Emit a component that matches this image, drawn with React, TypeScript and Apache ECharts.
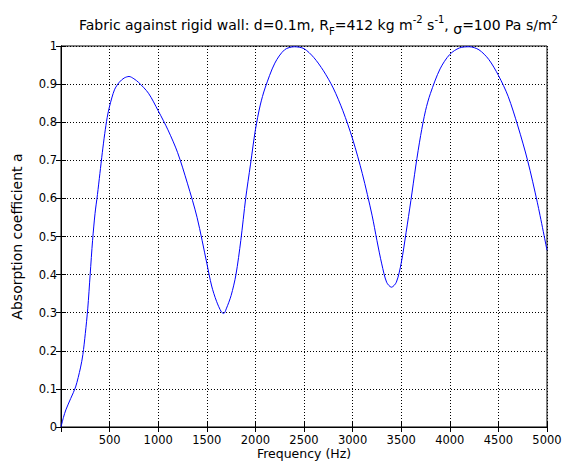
import React, { useEffect, useRef } from "react";
import * as echarts from "echarts";

const titleText = "Fabric against rigid wall: d=0.1m, R_F=412 kg m^-2 s^-1, σ=100 Pa s/m^2";
const xAxisName = "Frequency (Hz)";
const yAxisName = "Absorption coefficient a";
const xTicks = [0, 500, 1000, 1500, 2000, 2500, 3000, 3500, 4000, 4500, 5000];
const yTicks = [0, 0.1, 0.2, 0.3, 0.4, 0.5, 0.6, 0.7, 0.8, 0.9, 1];

const frequencies = [
  0, 25, 50, 100, 150, 200, 225, 250, 275, 300, 325, 350, 375, 400, 425, 450, 475, 500,
  550, 600, 650, 700, 750, 800, 900, 1000, 1100, 1200, 1300, 1400, 1500, 1550, 1600,
  1650, 1675, 1700, 1750, 1800, 1850, 1900, 1950, 2000, 2050, 2100, 2200, 2300, 2400,
  2500, 2600, 2700, 2800, 2900, 3000, 3100, 3200, 3250, 3300, 3350, 3400, 3450, 3500,
  3550, 3600, 3650, 3700, 3750, 3800, 3900, 4000, 4100, 4200, 4300, 4400, 4500, 4600,
  4700, 4800, 4900, 5000,
];
const absorption = [
  0.0, 0.025, 0.045, 0.075, 0.105, 0.155, 0.19, 0.245, 0.31, 0.4, 0.49, 0.56, 0.61, 0.665,
  0.72, 0.77, 0.812, 0.842, 0.885, 0.905, 0.916, 0.92, 0.914, 0.904, 0.876, 0.83, 0.78,
  0.72, 0.64, 0.55, 0.43, 0.37, 0.33, 0.302, 0.298, 0.31, 0.345, 0.4, 0.49, 0.6, 0.69,
  0.78, 0.845, 0.89, 0.955, 0.99, 0.998, 0.993, 0.97, 0.935, 0.89, 0.83, 0.756, 0.665,
  0.556, 0.49, 0.428, 0.38, 0.367, 0.38, 0.43, 0.51, 0.595, 0.685, 0.765, 0.83, 0.875,
  0.94, 0.978, 0.995, 0.998, 0.99, 0.965, 0.923, 0.868, 0.79, 0.7, 0.59, 0.464,
];

const FONT = "DejaVu Sans, Liberation Sans, Arial, sans-serif";

export default function App() {
  const ref = useRef<HTMLDivElement>(null);
  useEffect(() => {
    if (!ref.current) return;
    const chart = echarts.init(ref.current, null, { renderer: "svg" });
    const data = frequencies.map((f, i) => [f, absorption[i]]);
    const tickStyle = { show: true, inside: true, length: 5, lineStyle: { color: "#000", width: 1 } };
    const split = { show: true, lineStyle: { color: "#000", width: 1, type: [1, 2] as any } };
    chart.setOption({
      animation: false,
      backgroundColor: "#fff",
      textStyle: { fontFamily: FONT },
      title: {
        text:
          "{n|Fabric against rigid wall: d=0.1m, R}{sub|F}{n|=412 kg m}{sup|-2}{n| s}{sup|-1}{n|, }{sig|σ}{n|=100 Pa s/m}{sup|2}",
        left: 74,
        top: 9,
        textStyle: {
          fontWeight: "normal",
          rich: {
            n: { fontFamily: FONT, fontSize: 14, fontWeight: "normal", color: "#000", lineHeight: 22, verticalAlign: "middle" },
            sup: { fontFamily: FONT, fontSize: 10, fontWeight: "normal", color: "#000", lineHeight: 10, verticalAlign: "top" },
            sub: { fontFamily: FONT, fontSize: 10, fontWeight: "normal", color: "#000", lineHeight: 10, verticalAlign: "bottom" },
            sig: { fontFamily: FONT, fontSize: 14, fontWeight: "normal", color: "#000", lineHeight: 16, verticalAlign: "bottom" },
          },
        },
      },
      grid: {
        left: 61,
        right: 16,
        top: 46,
        bottom: 36,
        containLabel: false,
        outerBoundsMode: "none",
        show: true,
        borderColor: "#000",
        borderWidth: 1,
        backgroundColor: "#fff",
      },
      xAxis: [
        {
          type: "value",
          min: xTicks[0],
          max: xTicks[xTicks.length - 1],
          interval: 500,
          name: xAxisName,
          nameLocation: "middle",
          nameGap: 20,
          nameMoveOverlap: false,
          nameTextStyle: { fontFamily: FONT, fontSize: 12.5, color: "#000" },
          axisLine: { show: true, lineStyle: { color: "#000" } },
          axisTick: tickStyle,
          splitLine: split,
          axisLabel: {
            fontFamily: FONT,
            fontSize: 11.5,
            color: "#000",
            margin: 7,
            formatter: (v: number) => (v === 0 ? "" : String(v)),
          },
        },
        {
          type: "value",
          position: "top",
          min: xTicks[0],
          max: xTicks[xTicks.length - 1],
          interval: 500,
          axisLine: { show: true, lineStyle: { color: "#000" } },
          axisTick: tickStyle,
          splitLine: { show: false },
          axisLabel: { show: false },
        },
      ],
      yAxis: [
        {
          type: "value",
          min: yTicks[0],
          max: yTicks[yTicks.length - 1],
          interval: 0.1,
          name: yAxisName,
          nameLocation: "middle",
          nameGap: 37,
          nameMoveOverlap: false,
          nameTextStyle: { fontFamily: FONT, fontSize: 14, color: "#000" },
          axisLine: { show: true, lineStyle: { color: "#000" } },
          axisTick: tickStyle,
          splitLine: split,
          axisLabel: {
            fontFamily: FONT,
            fontSize: 11.5,
            color: "#000",
            margin: 4,
            formatter: (v: number) => String(Math.round(v * 10) / 10),
          },
        },
        {
          type: "value",
          position: "right",
          min: yTicks[0],
          max: yTicks[yTicks.length - 1],
          interval: 0.1,
          axisLine: { show: true, lineStyle: { color: "#000" } },
          axisTick: tickStyle,
          splitLine: { show: false },
          axisLabel: { show: false },
        },
      ],
      series: [
        {
          type: "line",
          data,
          xAxisIndex: 0,
          yAxisIndex: 0,
          showSymbol: false,
          smooth: 0.3,
          lineStyle: { color: "#0000ff", width: 1 },
          itemStyle: { color: "#0000ff" },
        },
      ],
    });
    return () => chart.dispose();
  }, []);
  return <div ref={ref} style={{ width: 563, height: 463, position: "absolute", left: 0, top: 0 }} />;
}
